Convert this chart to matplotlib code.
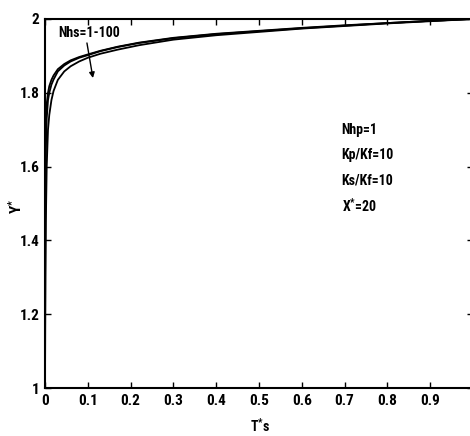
import matplotlib
matplotlib.use("Agg")
import matplotlib.pyplot as plt
from matplotlib import font_manager

_names = {f.name for f in font_manager.fontManager.ttflist}
_narrow = [n for n in ('Liberation Sans Narrow', 'DejaVu Sans Condensed', 'Roboto Condensed')
           if n in _names]
plt.rcParams['font.family'] = _narrow + ['Liberation Sans', 'DejaVu Sans']

# Data
T = [0, 0.0005, 0.001, 0.002, 0.004, 0.007, 0.01, 0.015, 0.02, 0.03, 0.045, 0.06,
     0.08, 0.1, 0.13, 0.17, 0.22, 0.3, 0.4, 0.5, 0.6, 0.7, 0.8, 0.9, 1.0]
Y_nhs1 = [1.0, 1.45, 1.62, 1.72, 1.77, 1.80, 1.818, 1.835, 1.847, 1.864, 1.878, 1.888,
          1.897, 1.904, 1.914, 1.925, 1.936, 1.949, 1.960, 1.968, 1.976, 1.983, 1.989, 1.995, 2.0]
Y_nhs10 = [1.0, 1.35, 1.52, 1.65, 1.73, 1.78, 1.80, 1.822, 1.836, 1.858, 1.874, 1.885,
           1.895, 1.902, 1.913, 1.924, 1.935, 1.948, 1.959, 1.967, 1.975, 1.982, 1.989, 1.995, 2.0]
Y_nhs100 = [1.0, 1.15, 1.30, 1.45, 1.60, 1.70, 1.74, 1.78, 1.805, 1.835, 1.858, 1.872,
            1.885, 1.895, 1.906, 1.917, 1.929, 1.944, 1.956, 1.965, 1.974, 1.981, 1.988, 1.994, 2.0]

x_ticks = [0, 0.1, 0.2, 0.3, 0.4, 0.5, 0.6, 0.7, 0.8, 0.9, 1.0]
x_tick_labels = ['0', '0.1', '0.2', '0.3', '0.4', '0.5', '0.6', '0.7', '0.8', '0.9', '']
y_ticks = [1, 1.2, 1.4, 1.6, 1.8, 2]
y_tick_labels = ['1', '1.2', '1.4', '1.6', '1.8', '2']
params = ['Nhp=1', 'Kp/Kf=10', 'Ks/Kf=10', r'$\mathregular{X^{*}}$=20']

fig = plt.figure(figsize=(4.70, 4.36), dpi=100)
ax = fig.add_axes([45/470, 1 - 388/436, (473 - 45)/470, (388 - 19)/436])

for ys in (Y_nhs1, Y_nhs10, Y_nhs100):
    ax.plot(T, ys, color='black', linewidth=1.3)

ax.set_xlim(0, 1)
ax.set_ylim(1, 2)
ax.set_xticks(x_ticks)
ax.set_xticklabels(x_tick_labels)
ax.set_yticks(y_ticks)
ax.set_yticklabels(y_tick_labels)
ax.tick_params(direction='in', length=4, width=1, top=True, right=True,
               labelsize=11, pad=4)
for lab in ax.get_xticklabels() + ax.get_yticklabels():
    lab.set_fontweight('bold')
for sp in ax.spines.values():
    sp.set_linewidth(1.5)

ax.set_xlabel(r'$\mathregular{T^{*}s}$', fontsize=10, fontweight='bold')
ax.xaxis.set_label_coords(0.503, -0.078)
ax.set_ylabel(r'$\mathregular{Y^{*}}$', fontsize=11, fontweight='bold')
ax.yaxis.set_label_coords(-0.047, 0.492)

ax.annotate('', xy=(0.112, 1.840), xytext=(0.098, 1.935),
            arrowprops=dict(arrowstyle='-|>', color='black', lw=1.0,
                            mutation_scale=8, shrinkA=0, shrinkB=0))
ax.text(0.030, 1.962, 'Nhs=1-100', fontsize=10, fontweight='bold', ha='left', va='center')

y0 = 1.699
for i, p in enumerate(params):
    ax.text(0.693, y0 - i * 0.068, p, fontsize=10, fontweight='bold', ha='left', va='center')

fig.savefig('out.png', dpi=100)
